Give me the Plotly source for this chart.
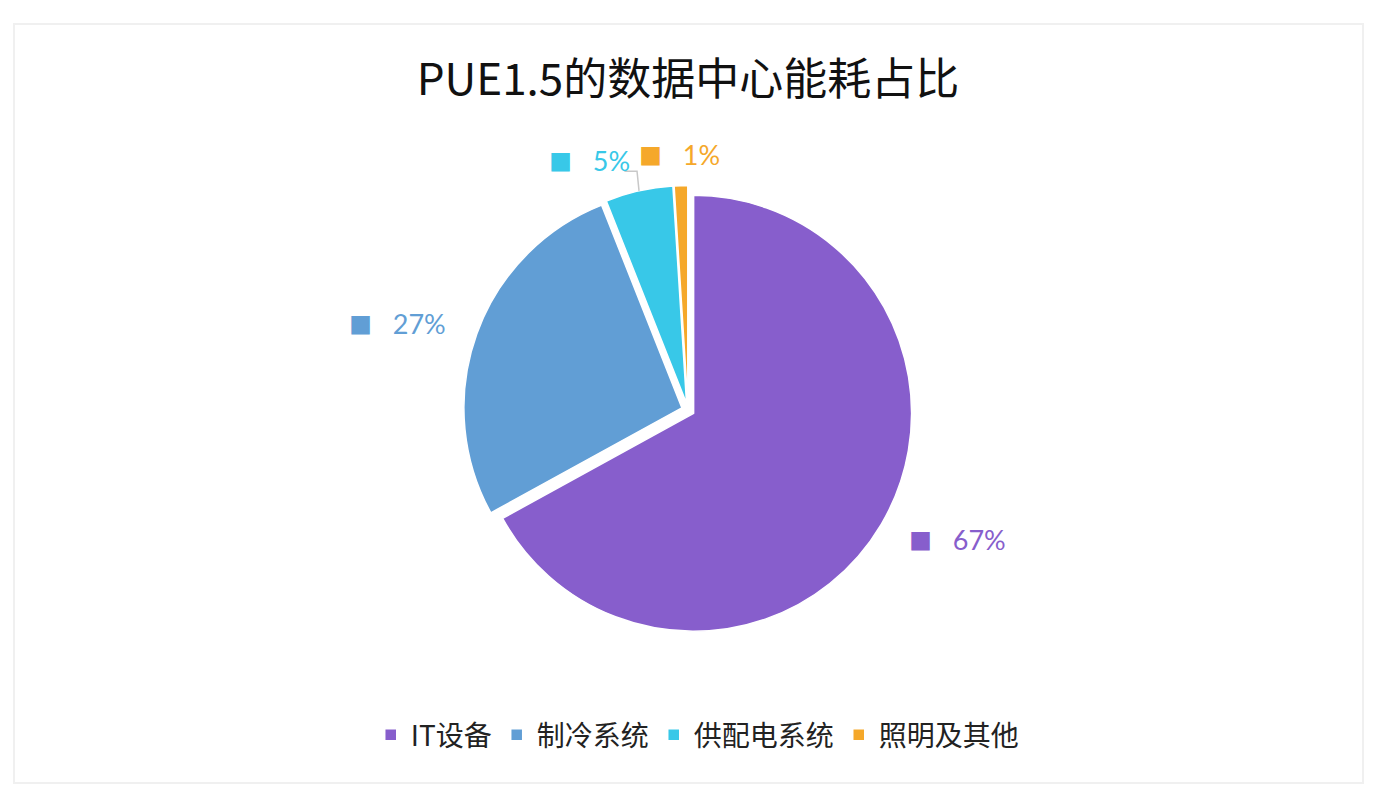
import numpy as np
import plotly.graph_objects as go

# data
labels = ["IT设备", "制冷系统", "供配电系统", "照明及其他"]
values = [67, 27, 5, 1]
colors = ["#875ECC", "#619ED5", "#38C8E8", "#F5A82A"]
title_text = "PUE1.5的数据中心能耗占比"

# layout settings (pixels of the figure)
W, H = 1390, 796
CX, CY = 680, 402          # pie centre (from left / from top)
HALF = 224.5               # half size of the pie domain box
PULL = 0.03
LABEL_R = 255              # distance of the data labels from the centre
label_anchor = ["left", "right", "right", "center"]
leader = [False, False, True, False]

fig = go.Figure()

fig.add_trace(go.Pie(
    labels=labels, values=values, sort=False, direction="clockwise", rotation=0,
    marker=dict(colors=colors, line=dict(color="white", width=1.5)),
    pull=[PULL] * len(values),
    textinfo="none",
    domain=dict(x=[(CX - HALF) / W, (CX + HALF) / W],
                y=[(H - CY - HALF) / H, (H - CY + HALF) / H]),
    showlegend=True,
))

# data labels placed at the mid-angle of every slice
vals = np.array(values, dtype=float)
share = vals / vals.sum()
mid = (np.cumsum(share) - share / 2) * 2 * np.pi
annotations = []
shapes = []
for s, a, c, anc, ld in zip(share, mid, colors, label_anchor, leader):
    lx = CX + LABEL_R * np.sin(a)
    ly = CY - LABEL_R * np.cos(a)
    annotations.append(dict(
        x=lx / W, y=(H - ly) / H, xref="paper", yref="paper",
        xanchor=anc, yanchor="middle", showarrow=False,
        text=("<span style='font-family:Noto Sans CJK SC;font-size:23px'>■</span>"
              f"   {s:.0%}"),
        font=dict(family="Lato, Open Sans, sans-serif", size=27, color=c),
    ))
    if ld:
        # elbow leader line from the slice edge to the label
        ex = CX + HALF * np.sin(a)
        ey = CY - HALF * np.cos(a)
        pts = [(ex, ey), (ex - 2, ly + 10), (lx - 8, ly + 10)]
        path = "M " + " L ".join(f"{px / W},{(H - py) / H}" for px, py in pts)
        shapes.append(dict(type="path", xref="paper", yref="paper", path=path,
                           line=dict(color="#C8C8C8", width=1.5)))

shapes.append(dict(type="rect", xref="paper", yref="paper",
                   x0=6 / W, x1=1355 / W, y0=(H - 775) / H, y1=(H - 16) / H,
                   line=dict(color="#F0F0F0", width=2), fillcolor="rgba(0,0,0,0)",
                   layer="below"))

fig.update_layout(
    width=W, height=H,
    margin=dict(l=0, r=0, t=0, b=0),
    paper_bgcolor="white", plot_bgcolor="white",
    title=dict(text=title_text, x=CX / W, xanchor="center", y=(H - 72) / H, yanchor="middle",
               font=dict(family="Noto Sans CJK SC", size=44, color="#111111")),
    legend=dict(orientation="h", x=CX / W + 0.007, xanchor="center", y=(H - 727) / H,
                yanchor="middle",
                font=dict(family="Noto Sans CJK SC", size=28, color="#222222"),
                itemwidth=30, traceorder="normal"),
    annotations=annotations,
    shapes=shapes,
)

fig.write_html("out.html")
